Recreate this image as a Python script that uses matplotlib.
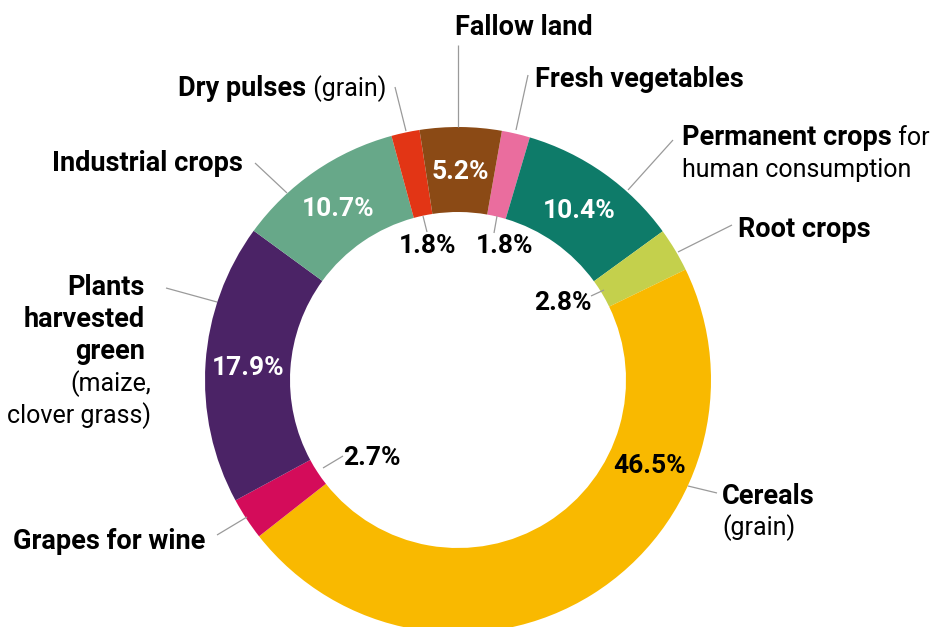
import numpy as np
import matplotlib.pyplot as plt

# Share of utilised agricultural area (arable land), %
categories = ['Fresh vegetables', 'Permanent crops', 'Root crops', 'Cereals',
              'Grapes for wine', 'Plants harvested green', 'Industrial crops',
              'Dry pulses', 'Fallow land']
shares = [1.8, 10.4, 2.8, 46.5, 2.7, 17.9, 10.7, 1.8, 5.2]
colors = ['#EA6D9E', '#0E7B69', '#C4D04C', '#F9B900', '#D40C5A',
          '#4B2366', '#67A889', '#E23515', '#8B4A15']

plt.rcParams['font.family'] = ['Roboto', 'DejaVu Sans']

W, H = 935, 627
CX, CY = 458, 380          # ring centre, image pixels
R_OUT, RING = 253, 85
FS_B, FS_R, FS_P = 19.5, 18, 19   # bold label, regular label, percentages
LEAD = '#9a9a9a'

fig = plt.figure(figsize=(W / 100, H / 100), dpi=100)
ax = fig.add_axes([0, 0, 1, 1])

ax.pie(shares, colors=colors, startangle=80, counterclock=False,
       radius=R_OUT, center=(CX, H - CY),
       wedgeprops=dict(width=RING, linewidth=0))
ax.set_xlim(0, W)
ax.set_ylim(0, H)
ax.set_aspect('equal')
ax.axis('off')

renderer = fig.canvas.get_renderer()


def line(x, y, pieces, ha='left', color='black', size=None):
    # pieces: list of (text, bold) drawn one after another on a baseline
    order = pieces if ha != 'right' else pieces[::-1]
    for txt, bold in order:
        fs = size or (FS_B if bold else FS_R)
        t = ax.text(x, H - y, txt, fontsize=fs, color=color, ha=ha,
                    va='baseline', fontweight='bold' if bold else 'normal')
        w = t.get_window_extent(renderer).width
        x = x + w if ha == 'left' else x - w


def leader(p0, p1):
    ax.plot([p0[0], p1[0]], [H - p0[1], H - p1[1]], color=LEAD, lw=0.9,
            solid_capstyle='butt')


# outer labels
line(524, 35, [('Fallow land', True)], ha='center')
leader((458, 45), (458, 127))

line(535, 87, [('Fresh vegetables', True)])
leader((528, 75), (516, 130))

line(386, 96, [('Dry pulses', True), (' (grain)', False)], ha='right')
leader((395, 87), (406, 131))

line(682, 145, [('Permanent crops', True), (' for', False)])
line(682, 177, [('human consumption', False)])
leader((673, 140), (628, 190))

line(738, 237, [('Root crops', True)])
leader((732, 225), (678, 252))

line(722, 504, [('Cereals', True)])
line(722, 535, [('(grain)', False)])
leader((717, 493), (688, 486))

line(205, 549, [('Grapes for wine', True)], ha='right')
leader((217, 535), (247, 517))

for i, (txt, b) in enumerate([('Plants', True), ('harvested', True),
                              ('green', True), ('(maize,', False),
                              ('clover grass)', False)]):
    line(145 if b else 151, 295 + 32 * i, [(txt, b)], ha='right')
leader((166, 288), (217, 302))

line(243, 171, [('Industrial crops', True)], ha='right')
leader((255, 163), (287, 193))

# percentages inside the ring, at each wedge's mid angle
frac = np.array(shares) / sum(shares)
mid = np.radians(80 - 360 * (np.cumsum(frac) - frac / 2))
r_mid = R_OUT - RING / 2
for i in [1, 5, 6, 8]:
    ax.text(CX + r_mid * np.cos(mid[i]), H - CY + r_mid * np.sin(mid[i]),
            f'{shares[i]:.1f}%', fontsize=FS_P, fontweight='bold',
            color='white', ha='center', va='center_baseline')

# cereals share sits in the ring, the small ones in the hole with leaders
line(650, 473, [(f'{shares[3]:.1f}%', True)], ha='center', size=FS_P)
line(428, 253, [(f'{shares[7]:.1f}%', True)], ha='center', size=FS_P)
leader((423, 216), (427, 232))
line(505, 253, [(f'{shares[0]:.1f}%', True)], ha='center', size=FS_P)
leader((497, 216), (494, 233))
line(563, 310, [(f'{shares[2]:.1f}%', True)], ha='center', size=FS_P)
leader((604, 290), (591, 296))
line(372, 465, [(f'{shares[4]:.1f}%', True)], ha='center', size=FS_P)
leader((323, 468), (343, 456))

fig.savefig('out.png', dpi=100)
